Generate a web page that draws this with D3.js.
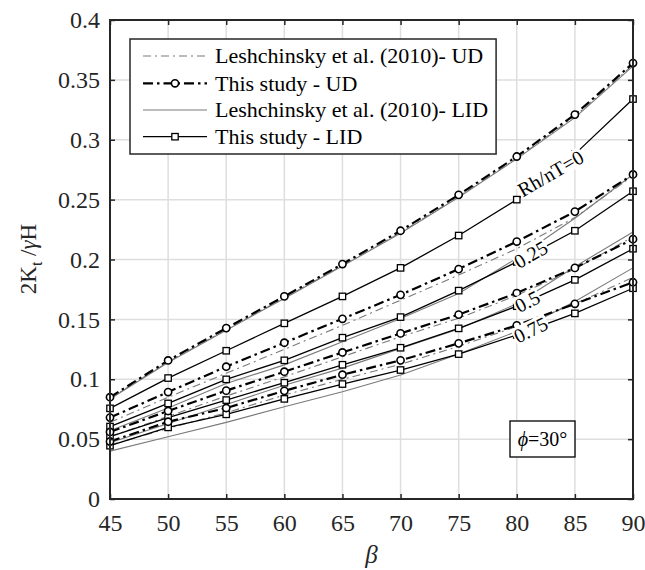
<!DOCTYPE html>
<html><head><meta charset="utf-8">
<script src="https://cdn.jsdelivr.net/npm/d3@7"></script>
<style>
body{margin:0;background:#fff;}
svg{display:block;font-family:"Liberation Serif","Times New Roman",serif;}
</style>
</head><body>
<svg id="c" width="645" height="570"></svg>
<script>
// ---------- data ----------
const beta = [45, 50, 55, 60, 65, 70, 75, 80, 85, 90];
const xTicks = [45, 50, 55, 60, 65, 70, 75, 80, 85, 90];
const yTicks = [0, 0.05, 0.1, 0.15, 0.2, 0.25, 0.3, 0.35, 0.4];
const yTickLabels = ["0", "0.05", "0.1", "0.15", "0.2", "0.25", "0.3", "0.35", "0.4"];
const rhLabels = ["Rh/nT=0", "0.25", "0.5", "0.75"];

// This study - UD (circles)
const studyUD0  = [0.085, 0.1157, 0.1427, 0.1692, 0.1962, 0.224, 0.254, 0.286, 0.321, 0.364];
const studyUD25 = [0.068, 0.0893, 0.1105, 0.1305, 0.1505, 0.1705, 0.192, 0.215, 0.240, 0.271];
const studyUD50 = [0.056, 0.0735, 0.0905, 0.1063, 0.1224, 0.1383, 0.154, 0.172, 0.193, 0.217];
const studyUD75 = [0.048, 0.0645, 0.076, 0.0903, 0.1038, 0.1158, 0.130, 0.145, 0.163, 0.181];
// This study - LID (squares)
const studyLID0  = [0.0757, 0.101, 0.1238, 0.1467, 0.1692, 0.193, 0.220, 0.250, 0.288, 0.334];
const studyLID25 = [0.0605, 0.0798, 0.0999, 0.1158, 0.1347, 0.1519, 0.174, 0.198, 0.224, 0.257];
const studyLID50 = [0.052, 0.068, 0.0826, 0.0971, 0.1121, 0.1263, 0.1425, 0.161, 0.183, 0.209];
const studyLID75 = [0.0445, 0.0598, 0.0707, 0.0836, 0.096, 0.1077, 0.121, 0.137, 0.155, 0.176];
// Leshchinsky et al. (2010) - UD
const lesUD0  = [0.084, 0.1145, 0.1415, 0.168, 0.195, 0.2225, 0.2525, 0.2845, 0.3195, 0.3625];
const lesUD25 = [0.064, 0.085, 0.105, 0.125, 0.145, 0.166, 0.187, 0.209, 0.235, 0.270];
const lesUD50 = [0.052, 0.069, 0.086, 0.102, 0.1188, 0.1355, 0.151, 0.170, 0.192, 0.219];
const lesUD75 = [0.045, 0.059, 0.072, 0.0868, 0.100, 0.1125, 0.1275, 0.144, 0.163, 0.185];
// Leshchinsky et al. (2010) - LID
const lesLID0  = [0.0835, 0.114, 0.141, 0.1675, 0.1945, 0.222, 0.252, 0.284, 0.3185, 0.3615];
const lesLID25 = [0.057, 0.076, 0.0965, 0.112, 0.1313, 0.1508, 0.1717, 0.201, 0.2345, 0.271];
const lesLID50 = [0.047, 0.063, 0.079, 0.095, 0.1093, 0.1258, 0.142, 0.163, 0.194, 0.223];
const lesLID75 = [0.040, 0.052, 0.064, 0.077, 0.0896, 0.1035, 0.121, 0.140, 0.165, 0.193];

const legendLabels = ["Leshchinsky et al. (2010)- UD", "This study - UD",
                      "Leshchinsky et al. (2010)- LID", "This study - LID"];

// ---------- layout ----------
const PL = 110, PR = 633, PT = 20, PB = 499;
const svg = d3.select("#c");
const x = d3.scaleLinear().domain([45, 90]).range([PL, PR]);
const y = d3.scaleLinear().domain([0, 0.4]).range([PB, PT]);
const AX = "#262626";

// grid
const grid = svg.append("g");
grid.selectAll("line.gx").data(xTicks).join("line")
  .attr("x1", d => x(d)).attr("x2", d => x(d)).attr("y1", PT).attr("y2", PB)
  .attr("stroke", "#dedede").attr("stroke-width", 1.5);
grid.selectAll("line.gy").data(yTicks).join("line")
  .attr("y1", d => y(d)).attr("y2", d => y(d)).attr("x1", PL).attr("x2", PR)
  .attr("stroke", "#dedede").attr("stroke-width", 1.5);

const styles = {
  lesUD:   {stroke: "#7a7a7a", width: 1.1, dash: "8,4,2,4", marker: null},
  lesLID:  {stroke: "#7a7a7a", width: 1.1, dash: null, marker: null},
  studyUD: {stroke: "#000", width: 2.2, dash: "10,4,2.5,4", marker: "circle"},
  studyLID:{stroke: "#000", width: 1.3, dash: null, marker: "square"}
};

const series = [
  {kind: "lesUD", v: lesUD0}, {kind: "lesUD", v: lesUD25}, {kind: "lesUD", v: lesUD50}, {kind: "lesUD", v: lesUD75},
  {kind: "lesLID", v: lesLID0}, {kind: "lesLID", v: lesLID25}, {kind: "lesLID", v: lesLID50}, {kind: "lesLID", v: lesLID75},
  {kind: "studyLID", v: studyLID0}, {kind: "studyLID", v: studyLID25}, {kind: "studyLID", v: studyLID50}, {kind: "studyLID", v: studyLID75},
  {kind: "studyUD", v: studyUD0}, {kind: "studyUD", v: studyUD25}, {kind: "studyUD", v: studyUD50}, {kind: "studyUD", v: studyUD75}
];

const line = d3.line().x((d, i) => x(beta[i])).y(d => y(d));
const plot = svg.append("g");
series.forEach(s => {
  const st = styles[s.kind];
  plot.append("path").attr("d", line(s.v)).attr("fill", "none")
    .attr("stroke", st.stroke).attr("stroke-width", st.width)
    .attr("stroke-dasharray", st.dash);
});
function drawMarker(g, kind, cx, cy) {
  if (kind === "circle") {
    g.append("circle").attr("cx", cx).attr("cy", cy).attr("r", 3.6)
      .attr("fill", "#fff").attr("stroke", "#000").attr("stroke-width", 1.6);
  } else if (kind === "square") {
    g.append("rect").attr("x", cx - 3.2).attr("y", cy - 3.2).attr("width", 6.4).attr("height", 6.4)
      .attr("fill", "#fff").attr("stroke", "#000").attr("stroke-width", 1.3);
  }
}
series.forEach(s => {
  const st = styles[s.kind];
  if (!st.marker) return;
  s.v.forEach((d, i) => drawMarker(plot, st.marker, x(beta[i]), y(d)));
});

// inline contour-style labels on "This study - LID" lines
const lidLines = [studyLID0, studyLID25, studyLID50, studyLID75];
const labelAt = [82.9, 81.2, 80.9, 81.2];
const labelAng = [30, 30, 27, 26];
lidLines.forEach((vals, k) => {
  const b = labelAt[k];
  const i = Math.floor((b - 45) / 5);
  const t = (b - beta[i]) / 5;
  const v = vals[i] + (vals[i + 1] - vals[i]) * t;
  const g = svg.append("g").attr("transform", `translate(${x(b)},${y(v)}) rotate(${-labelAng[k]})`);
  const txt = g.append("text").attr("text-anchor", "middle").attr("dy", "0.35em")
    .attr("font-size", 20).attr("fill", "#000").text(rhLabels[k]);
  const bb = txt.node().getBBox();
  g.insert("rect", "text").attr("x", bb.x - 1).attr("y", bb.y + 2).attr("width", bb.width + 2)
    .attr("height", bb.height - 4).attr("fill", "#fff");
});

// axes
const axB = svg.append("g").attr("transform", `translate(0,${PB})`)
  .call(d3.axisBottom(x).tickValues(xTicks).tickSizeInner(-5).tickSizeOuter(0).tickPadding(15).tickFormat(d3.format("d")));
const axT = svg.append("g").attr("transform", `translate(0,${PT})`)
  .call(d3.axisTop(x).tickValues(xTicks).tickSizeInner(-5).tickSizeOuter(0).tickFormat(""));
const axL = svg.append("g").attr("transform", `translate(${PL},0)`)
  .call(d3.axisLeft(y).tickValues(yTicks).tickSizeInner(-5).tickSizeOuter(0).tickPadding(10)
    .tickFormat((d, i) => yTickLabels[i]));
const axR = svg.append("g").attr("transform", `translate(${PR},0)`)
  .call(d3.axisRight(y).tickValues(yTicks).tickSizeInner(-5).tickSizeOuter(0).tickFormat(""));
[axB, axT, axL, axR].forEach(g => {
  g.select(".domain").remove();
  g.selectAll(".tick line").attr("stroke", AX).attr("stroke-width", 1.5);
  g.selectAll(".tick text").attr("fill", AX).attr("font-size", 24)
    .attr("font-family", "'Liberation Serif','Times New Roman',serif");
});
svg.append("rect").attr("x", PL).attr("y", PT).attr("width", PR - PL).attr("height", PB - PT)
  .attr("fill", "none").attr("stroke", AX).attr("stroke-width", 2);

// axis titles
svg.append("text").attr("x", x(67.5)).attr("y", 563).attr("text-anchor", "middle")
  .attr("font-size", 25).attr("font-style", "italic").attr("fill", AX).text("β");
const yl = svg.append("text").attr("transform", "translate(36,259) rotate(-90)")
  .attr("text-anchor", "middle").attr("font-size", 23).attr("fill", AX);
yl.append("tspan").text("2K");
yl.append("tspan").attr("font-size", 16).attr("dy", 6).text("t");
yl.append("tspan").attr("dy", -6).text(" /");
yl.append("tspan").attr("font-style", "italic").text("γ");
yl.append("tspan").text("H");

// legend
const lg = svg.append("g");
const lgBox = lg.append("rect").attr("x", 130).attr("y", 39).attr("height", 115)
  .attr("fill", "#fff").attr("stroke", AX).attr("stroke-width", 1.5);
const rowY = [56, 83.3, 110, 136.7];
const legKinds = ["lesUD", "studyUD", "lesLID", "studyLID"];
let maxW = 0;
legKinds.forEach((k, i) => {
  const st = styles[k];
  lg.append("line").attr("x1", 143).attr("x2", 207).attr("y1", rowY[i]).attr("y2", rowY[i])
    .attr("stroke", st.stroke).attr("stroke-width", st.width).attr("stroke-dasharray", st.dash);
  if (st.marker) drawMarker(lg, st.marker, 175, rowY[i]);
  const t = lg.append("text").attr("x", 215).attr("y", rowY[i]).attr("dy", "0.33em")
    .attr("font-size", 22).attr("fill", "#000").text(legendLabels[i]);
  maxW = Math.max(maxW, t.node().getComputedTextLength());
});
lgBox.attr("width", 215 + maxW + 8 - 130);

// phi box
svg.append("rect").attr("x", 510).attr("y", 421).attr("width", 65).attr("height", 36)
  .attr("fill", "#fff").attr("stroke", "#000").attr("stroke-width", 1.3);
const pt = svg.append("text").attr("x", 542.5).attr("y", 439).attr("dy", "0.35em")
  .attr("text-anchor", "middle").attr("font-size", 20).attr("fill", "#000");
pt.append("tspan").attr("font-style", "italic").text("ϕ");
pt.append("tspan").text("=30°");
</script>
</body></html>
